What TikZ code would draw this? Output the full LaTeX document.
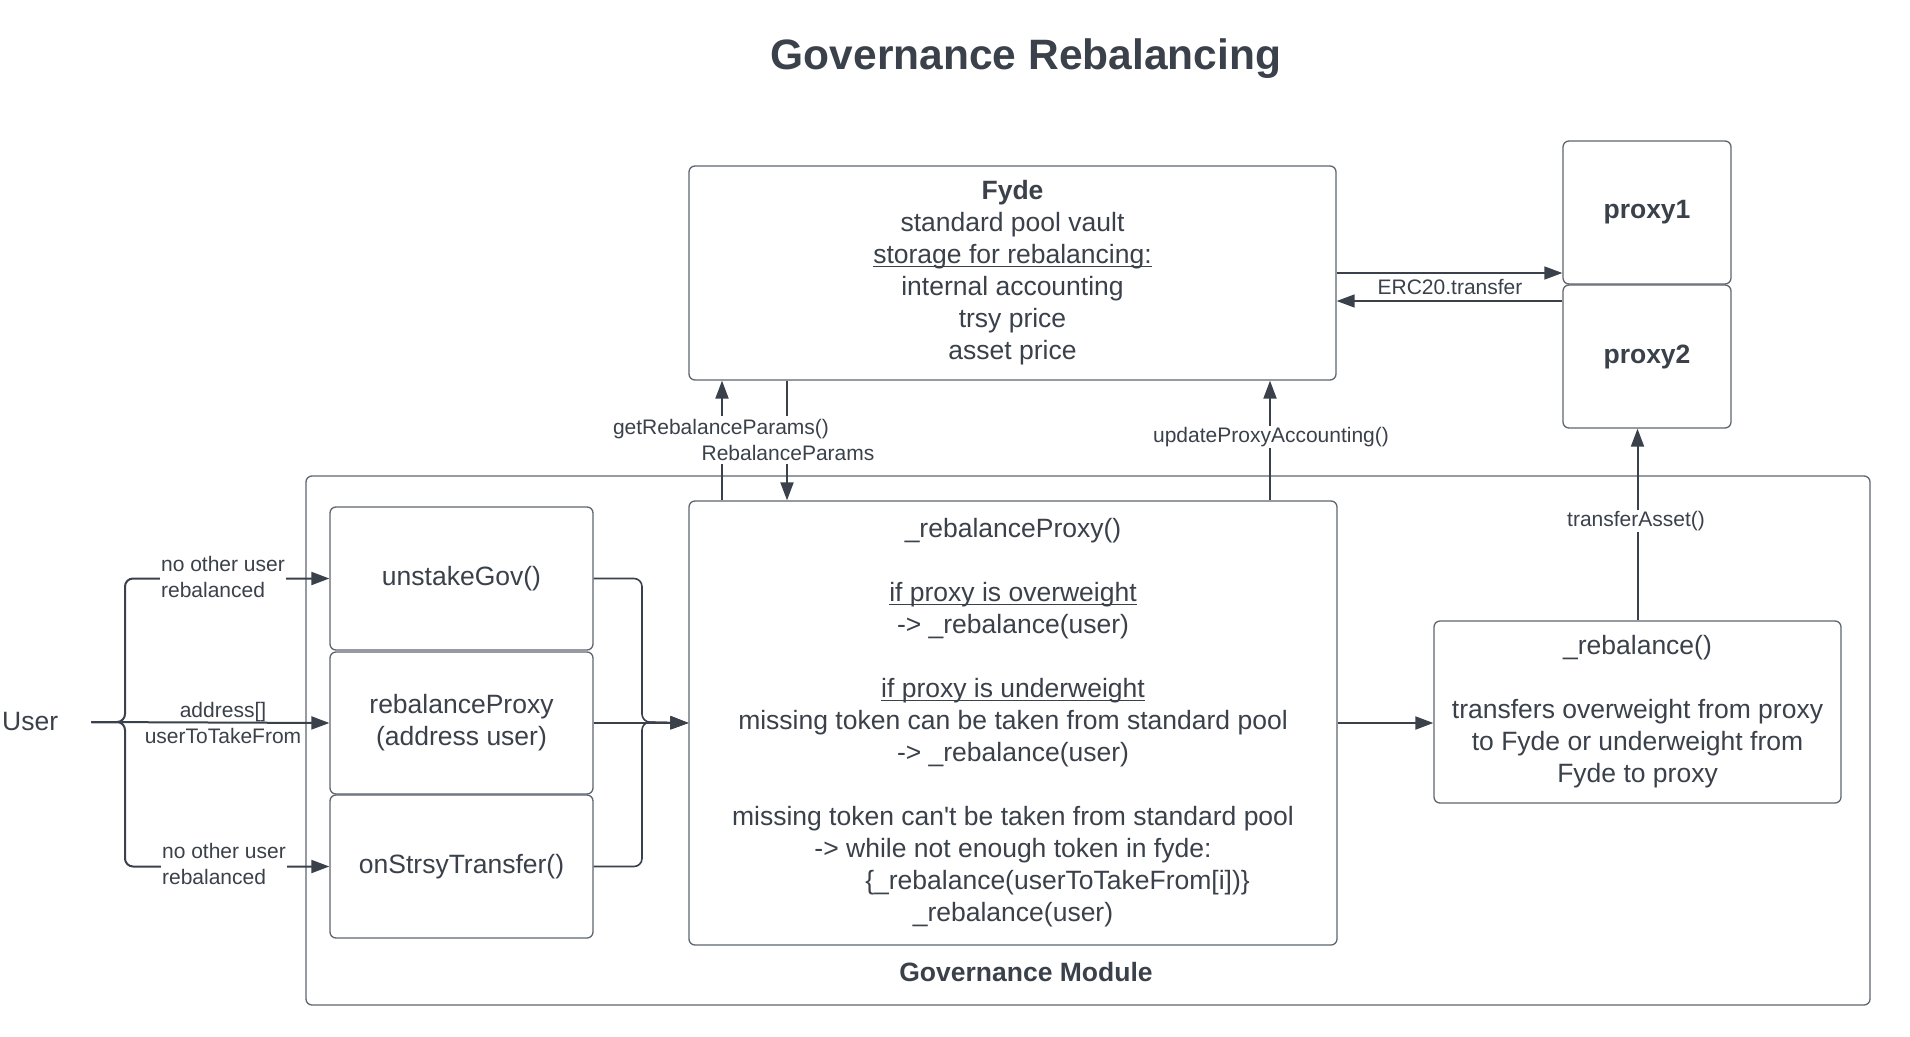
\documentclass[tikz,border=0pt]{standalone}
\usepackage{fontspec}
\setmainfont{Liberation Sans}
\usetikzlibrary{arrows.meta}
\definecolor{ink}{HTML}{3A414A}
\definecolor{edge}{HTML}{5E656F}
\newcommand\myul[1]{\setbox0\hbox{#1}\rlap{\rule[-3.5pt]{\wd0}{1.4pt}}\box0}
\begin{document}
\begin{tikzpicture}[x=1pt,y=-1pt,
  box/.style={draw=edge, line width=1.3pt, rounded corners=6pt, inner sep=0pt, align=center, text=ink, font=\fontsize{26.5}{32}\selectfont},
  lbl/.style={text=ink, font=\fontsize{21}{25.6}\selectfont, inner sep=1pt, align=center},
  conn/.style={draw=ink, line width=2pt, -{Triangle[length=18pt,width=13pt]}},
  thinconn/.style={draw=ink, line width=1.5pt, -{Triangle[length=18pt,width=13pt]}},
  merge/.style={draw=ink, line width=1.6pt, rounded corners=8pt, -{Triangle[length=18pt,width=13pt]}}
]
\useasboundingbox (0,0) rectangle (1910,1036);
\fill[white] (0,0) rectangle (1910,1036);

% title
\node[text=ink, font=\fontsize{42.5}{50}\selectfont\bfseries] (title) at (1026,59) {Governance Rebalancing};

% outer module
\node[box, minimum width=1564pt, minimum height=529pt] (gov) at (1088,740.5) {};
\node[text=ink, font=\fontsize{26.5}{32}\selectfont\bfseries] (govlbl) at (1026,972) {Governance Module};

% boxes
\node[box, minimum width=647pt, minimum height=214pt] (fyde) at (1012.5,273)
  {{\bfseries Fyde}\\standard pool vault\\\myul{storage for rebalancing:}\\internal accounting\\trsy price\\asset price};
\node[box, minimum width=168pt, minimum height=143pt, font=\fontsize{26.5}{32}\selectfont\bfseries] (proxy1) at (1647,212.5) {proxy1};
\node[box, minimum width=168pt, minimum height=143pt, font=\fontsize{26.5}{32}\selectfont\bfseries] (proxy2) at (1647,356.5) {proxy2};

\node[box, minimum width=263pt, minimum height=143pt] (unstake) at (461.5,578.5) {unstakeGov()};
\node[box, minimum width=263pt, minimum height=142pt] (rebproxy) at (461.5,723) {rebalanceProxy\\(address user)};
\node[box, minimum width=263pt, minimum height=143pt] (onstrsy) at (461.5,866.5) {onStrsyTransfer()};

\node[box, minimum width=648pt, minimum height=444pt] (rp) at (1013,723)
  {\_rebalanceProxy()\\[32pt]\myul{if proxy is overweight}\\-> \_rebalance(user)\\[32pt]\myul{if proxy is underweight}\\missing token can be taken from standard pool\\-> \_rebalance(user)\\[32pt]missing token can\textquotesingle t be taken from standard pool\\-> while not enough token in fyde:\\\hspace*{89pt}\{\_rebalance(userToTakeFrom[i])\}\\\_rebalance(user)};

\node[box, minimum width=407pt, minimum height=182pt] (reb) at (1637.5,712)
  {\_rebalance()\\[32pt]transfers overweight from proxy\\to Fyde or underweight from\\Fyde to proxy};

% user
\node[anchor=west, text width=87pt, align=left, inner xsep=2pt, inner ysep=0pt, text=ink, font=\fontsize{26.5}{32}\selectfont] (user) at (0,722) {User};

% helper coordinates
\coordinate (bx) at (125,722);
\coordinate (mx) at (642,722);
\coordinate (xg) at (722,0);
\coordinate (xr) at (787,0);
\coordinate (xu) at (1270,0);
\coordinate (erc2) at ([yshift=-28pt]fyde.east);

% user brace
\draw[merge, line width=2pt] (user.east) -- (bx) -- (bx |- unstake.west) -- (unstake.west);
\draw[conn] (user.east) -- (rebproxy.west);
\draw[merge, line width=2pt] (user.east) -- (bx) -- (bx |- onstrsy.west) -- (onstrsy.west);

% merge into _rebalanceProxy
\draw[merge] (unstake.east) -- (unstake.east -| mx) -- (mx) -- (rp.west);
\draw[merge] (rebproxy.east) -- (rp.west);
\draw[merge] (onstrsy.east) -- (onstrsy.east -| mx) -- (mx) -- (rp.west);

% Fyde connections
\draw[conn] (xg |- rp.north) -- (xg |- fyde.south);
\draw[conn] (xr |- fyde.south) -- (xr |- rp.north);
\draw[conn] (xu |- rp.north) -- (xu |- fyde.south);

% ERC20
\draw[thinconn] (fyde.east) -- (fyde.east -| proxy1.west);
\draw[thinconn] (erc2 -| proxy2.west) -- (erc2);

% rebalance
\draw[conn] (rp.east) -- (reb.west |- rp.east);
\draw[conn] (reb.north) -- (reb.north |- proxy2.south);

% labels
\node[lbl, fill=white, align=left] (l1) at (223,577) {no other user\\rebalanced};
\node[lbl, fill=white, align=left] (l3) at (224,864) {no other user\\rebalanced};
\node[lbl] (l2) at (223,723) {address[]\\userToTakeFrom};
\node[lbl, fill=white, inner ysep=3pt] (lg) at (721,429) {getRebalanceParams()};
\node[lbl, fill=white, inner ysep=3pt] (lr) at (788,453) {RebalanceParams};
\node[lbl, fill=white] (lu) at (1271,437) {updateProxyAccounting()};
\node[lbl, fill=white] (lt) at (1636,521) {transferAsset()};
\node[lbl] (le) at (1450,287) {ERC20.transfer};
\end{tikzpicture}
\end{document}
